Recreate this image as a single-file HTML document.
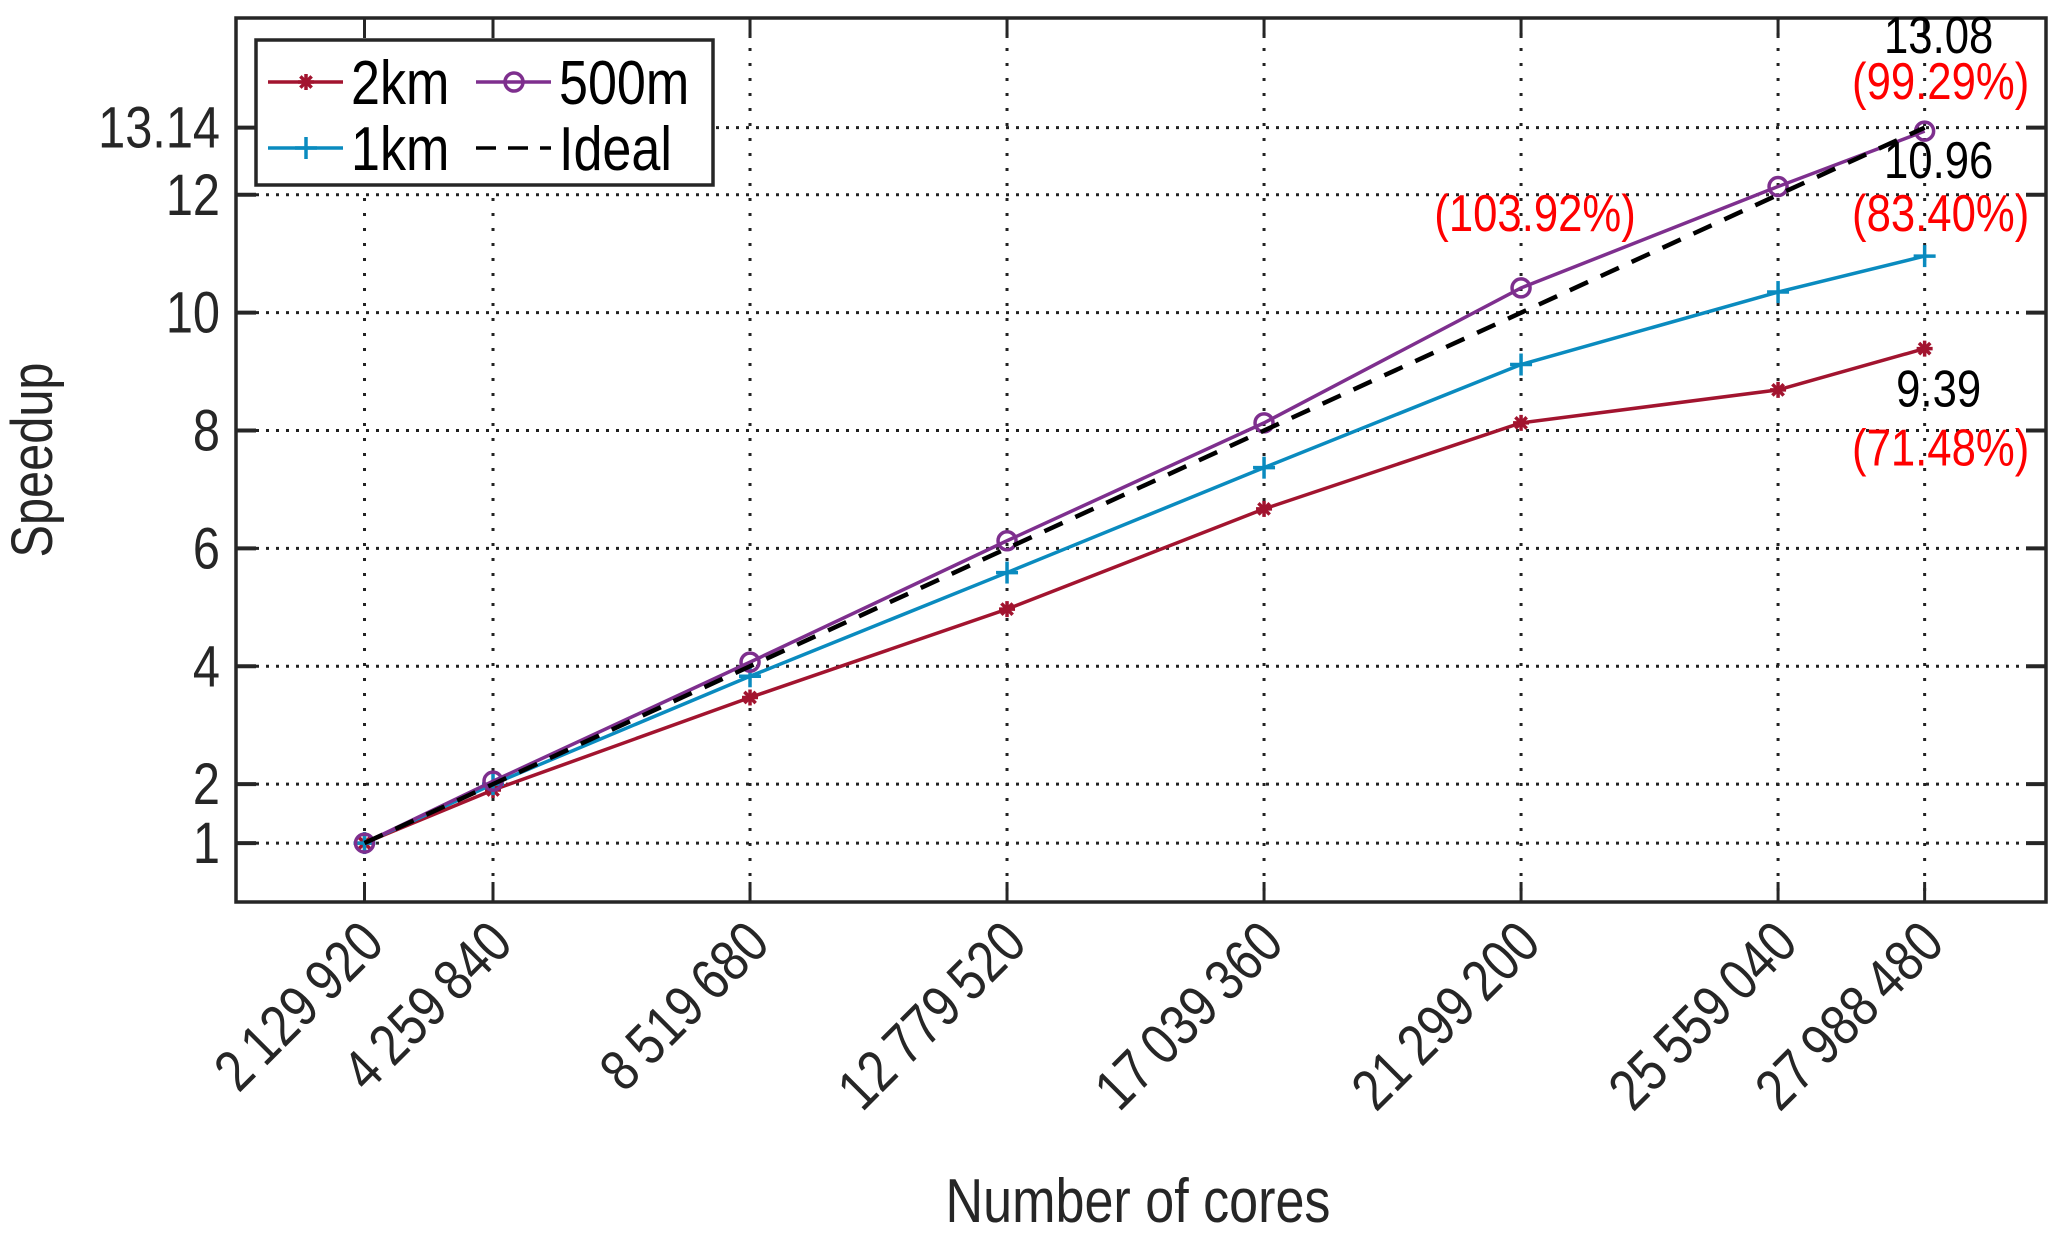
<!DOCTYPE html>
<html><head><meta charset="utf-8"><style>
html,body{margin:0;padding:0;background:#fff;}
svg{display:block;font-family:"Liberation Sans",Arial,sans-serif;}
</style></head><body>
<svg id="chart" width="2067" height="1242" viewBox="0 0 2067 1242" xmlns="http://www.w3.org/2000/svg"></svg>
<script>
const cores = [2129920, 4259840, 8519680, 12779520, 17039360, 21299200, 25559040, 27988480];
const tickLabels = ["2\u2009129\u2009920","4\u2009259\u2009840","8\u2009519\u2009680","12\u2009779\u2009520","17\u2009039\u2009360","21\u2009299\u2009200","25\u2009559\u2009040","27\u2009988\u2009480"];
const yTicks = [1, 2, 4, 6, 8, 10, 12, 13.14];
const speedup2km = [1, 1.9, 3.47, 4.97, 6.67, 8.13, 8.69, 9.39];
const speedup1km = [1, 2.0, 3.83, 5.59, 7.37, 9.12, 10.35, 10.96];
const speedup500m = [1, 2.05, 4.07, 6.13, 8.13, 10.42, 12.14, 13.08];
const speedupIdeal = [1, 2, 4, 6, 8, 10, 12, 13.14];
const annotations = [
  {i:7, v:13.08, text:"13.08", pct:"(99.29%)", dyT:-78, dyP:-32},
  {i:7, v:10.96, text:"10.96", pct:"(83.40%)", dyT:-78, dyP:-25},
  {i:5, v:10.42, text:"", pct:"(103.92%)", dyT:0, dyP:-57},
  {i:7, v:9.39, text:"9.39", pct:"(71.48%)", dyT:58, dyP:117}
];

const NS="http://www.w3.org/2000/svg";
const svg=document.getElementById('chart');
const L=236,R=2046,T=18,B=902;
const XMAX=30000000, YMAX=15;
const SX=0.84;
const xs=v=>L+(v/XMAX)*(R-L);
const ys=v=>B-(v/YMAX)*(B-T);
function el(tag,attrs,parent){const e=document.createElementNS(NS,tag);for(const k in attrs)e.setAttribute(k,attrs[k]);(parent||svg).appendChild(e);return e;}
function txt(x,y,s,size,anchor,fill,rot,parent){
  return el('text',{x:0,y:0,'text-anchor':anchor,'font-size':size,fill:fill,
    transform:`translate(${x} ${y}) rotate(${rot||0}) scale(${SX} 1)`},parent);
}

// grid
const grid=el('g',{});


yTicks.forEach(v=>{const l=el('line',{x1:L,x2:R,y1:ys(v),y2:ys(v),stroke:'#222','stroke-width':3,'stroke-dasharray':'3 7'},grid);

});
cores.forEach(v=>{const l=el('line',{x1:xs(v),x2:xs(v),y1:T,y2:B,stroke:'#222','stroke-width':3,'stroke-dasharray':'3 12'},grid);

});

// axes box
const box=el('rect',{x:L,y:T,width:R-L,height:B-T,fill:'none',stroke:'#262626','stroke-width':3.5});



// ticks and labels
yTicks.forEach(v=>{
  el('line',{x1:L,x2:L+20,y1:ys(v),y2:ys(v),stroke:'#262626','stroke-width':4});
  el('line',{x1:R,x2:R-20,y1:ys(v),y2:ys(v),stroke:'#262626','stroke-width':4});
  const t=txt(L-16,ys(v)+20,String(v),58,'end','#262626');
  t.textContent=String(v);
  
  
});
cores.forEach((v,i)=>{
  el('line',{x1:xs(v),x2:xs(v),y1:B,y2:B-20,stroke:'#262626','stroke-width':3});
  el('line',{x1:xs(v),x2:xs(v),y1:T,y2:T+20,stroke:'#262626','stroke-width':3});
  const t=txt(xs(v)+22,B+44,'',58,'end','#262626',-45);
  t.textContent=tickLabels[i];
  
  
});

const yt=txt(52,(T+B)/2,'',58,'middle','#262626',-90);
yt.textContent='Speedup';


const xt=txt(1138,1222,'',62,'middle','#262626',0);
xt.textContent='Number of cores';



// series
function star(g,x,y,c){for(let a=0;a<4;a++){const ang=a*Math.PI/4;el('line',{x1:x-8*Math.cos(ang),y1:y-8*Math.sin(ang),x2:x+8*Math.cos(ang),y2:y+8*Math.sin(ang),stroke:c,'stroke-width':3.5},g);}}
function plus(g,x,y,c){el('line',{x1:x-11,x2:x+11,y1:y,y2:y,stroke:c,'stroke-width':3.5},g);el('line',{x1:x,x2:x,y1:y-11,y2:y+11,stroke:c,'stroke-width':3.5},g);}
function circ(g,x,y,c){el('circle',{cx:x,cy:y,r:9,fill:'none',stroke:c,'stroke-width':3.5},g);}
function series(name,vals,color,marker,dash){
  const g=el('g',{});
  
  
  const pts=vals.map((v,i)=>xs(cores[i])+','+ys(v)).join(' ');
  const a={points:pts,fill:'none',stroke:color,'stroke-width':dash?4.5:3.5};
  if(dash)a['stroke-dasharray']='20 14';
  el('polyline',a,g);
  if(marker)vals.forEach((v,i)=>marker(g,xs(cores[i]),ys(v),color));
}
series('series-2km',speedup2km,'#a2142f',star);
series('series-1km',speedup1km,'#0a8bbf',plus);
series('series-500m',speedup500m,'#7e2f8e',circ);
series('series-ideal',speedupIdeal,'#000',null,true);

// annotations
annotations.forEach(a=>{
  const x=xs(cores[a.i]), y=ys(a.v);
  if(a.text){const t=txt(x+14,y+a.dyT,'',52,'middle','#000');
  t.textContent=a.text;
  
  }
  const p=txt(x+(a.i===5?14:16),y+a.dyP,'',52,'middle','#ff0000');
  p.textContent=a.pct;
  
  
});

// legend
const lg=el('g',{});


el('rect',{x:256,y:40,width:457,height:145,fill:'#fff',stroke:'#262626','stroke-width':3.5},lg);
const entries=[
 {n:'2km',c:'#a2142f',m:star,x:268,y:82},
 {n:'500m',c:'#7e2f8e',m:circ,x:476,y:82},
 {n:'1km',c:'#0a8bbf',m:plus,x:268,y:148},
 {n:'Ideal',c:'#000',m:null,x:476,y:148}
];
entries.forEach(e=>{
  const g=el('g',{},lg);
  
  
  const a={x1:e.x,x2:e.x+75,y1:e.y,y2:e.y,stroke:e.c,'stroke-width':3.5};
  if(!e.m)a['stroke-dasharray']='20 12';
  el('line',a,g);
  if(e.m)e.m(g,e.x+38,e.y,e.c);
  const t=txt(e.x+83,e.y+22,'',62,'start','#000',0,g);
  t.textContent=e.n;
});
</script>
</body></html>
